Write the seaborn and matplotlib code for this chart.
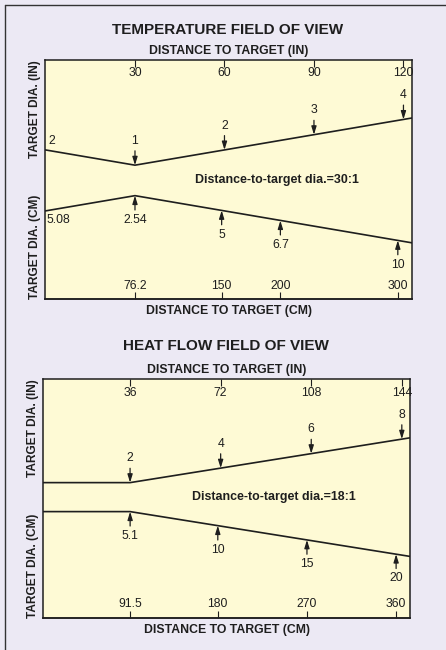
import numpy as np
import pandas as pd
import seaborn as sns
import matplotlib.pyplot as plt
from matplotlib.lines import Line2D

CM = 2.54

# temperature field of view (distances / diameters in inches)
t_dist_in = [0, 30, 123]
t_dia_in = [2, 1, 4.1]
t_in_ticks = [30, 60, 90, 120]
t_in_dia = [1, 2, 3, 4]
t_cm_ticks = [76.2, 150, 200, 300]
t_cm_dia = [2.54, 5, 6.7, 10]
t_ratio = "30:1"

# heat flow field of view
h_dist_in = [1.5, 36, 147.2]
h_dia_in = [2, 2, 8.18]
h_in_ticks = [36, 72, 108, 144]
h_in_dia = [2, 4, 6, 8]
h_cm_ticks = [91.5, 180, 270, 360]
h_cm_dia = [5.1, 10, 15, 20]
h_ratio = "18:1"

BG = "#ECE9F4"
FILL = "#FEFAD5"
INK = "#1E1E1E"
FS = 8.8

sns.set_style("white")
plt.rcParams["font.family"] = ["Liberation Sans", "DejaVu Sans"]
plt.rcParams["text.color"] = INK


def panel(ax, dist, dia, xlim, ylim, in_ticks, in_dia, cm_ticks, cm_dia, ratio):
    ax.set_facecolor(FILL)
    half = np.array(dia) / 2
    df = pd.DataFrame({"dist": dist, "upper": half, "lower": -half})
    sns.lineplot(data=df, x="dist", y="upper", color=INK, linewidth=1.2, ax=ax)
    sns.lineplot(data=df, x="dist", y="lower", color=INK, linewidth=1.2, ax=ax)
    ax.set_xlim(*xlim)
    ax.set_ylim(*ylim)
    ax.set_xlabel("")
    ax.set_ylabel("")
    ax.set_yticks([])
    for s in ax.spines.values():
        s.set_color(INK)
        s.set_linewidth(1.1)

    ax.xaxis.tick_top()
    ax.set_xticks(in_ticks, labels=[f"{v:g}" for v in in_ticks])
    ax.tick_params(axis="x", direction="in", length=5, width=0.8, pad=-14,
                   labelsize=FS, colors=INK)

    sec = ax.secondary_xaxis("bottom", functions=(lambda x: x * CM, lambda x: x / CM))
    sec.set_xticks(cm_ticks, labels=[f"{v:g}" for v in cm_ticks])
    sec.tick_params(direction="in", length=5, width=0.8, pad=-14,
                    labelsize=FS, colors=INK)
    sec.spines["bottom"].set_color(INK)
    sec.spines["bottom"].set_linewidth(1.1)

    arrow = dict(arrowstyle="-|>,head_length=0.55,head_width=0.17", color=INK,
                 lw=0.9, shrinkA=0.5, shrinkB=0)
    for x, d in zip(in_ticks, in_dia):
        ax.annotate(f"{d:g}", xy=(x, d / 2), xytext=(0, 17.5), textcoords="offset points",
                    ha="center", va="center", fontsize=FS, arrowprops=arrow)
    for c, d in zip(cm_ticks, cm_dia):
        ax.annotate(f"{d:g}", xy=(c / CM, -d / CM / 2), xytext=(0, -17.5),
                    textcoords="offset points", ha="center", va="center",
                    fontsize=FS, arrowprops=arrow)

    ax.text(0.63, 0, f"Distance-to-target dia.={ratio}", transform=ax.get_yaxis_transform(),
            ha="center", va="center", fontsize=8.9, weight="bold")
    ax.text(0.5, 1.038, "DISTANCE TO TARGET (IN)", transform=ax.transAxes,
            ha="center", va="center", fontsize=8.8, weight="bold")
    ax.text(0.5, -0.05, "DISTANCE TO TARGET (CM)", transform=ax.transAxes,
            ha="center", va="center", fontsize=8.8, weight="bold")
    ax.text(-0.029, 1, "TARGET DIA. (IN)", transform=ax.transAxes, rotation=90,
            ha="center", va="top", fontsize=8.6, weight="bold")
    ax.text(-0.029, 0, "TARGET DIA. (CM)", transform=ax.transAxes, rotation=90,
            ha="center", va="bottom", fontsize=8.6, weight="bold")


fig = plt.figure(figsize=(4.46, 6.5), dpi=100, facecolor=BG)
ax1 = fig.add_axes([0.102, 0.54, 0.822, 0.3677])
ax2 = fig.add_axes([0.097, 0.0497, 0.822, 0.367])

panel(ax1, t_dist_in, t_dia_in, (0, 122.9), (-3.89, 3.95),
      t_in_ticks, t_in_dia, t_cm_ticks, t_cm_dia, t_ratio)
panel(ax2, h_dist_in, h_dia_in, (1.5, 147.2), (-8.32, 8.14),
      h_in_ticks, h_in_dia, h_cm_ticks, h_cm_dia, h_ratio)

# values at the near end of the temperature beam
ax1.annotate(f"{t_dia_in[0]:g}", xy=(t_dist_in[0], t_dia_in[0] / 2), xytext=(2, 2),
             textcoords="offset points", ha="left", va="bottom", fontsize=FS)
ax1.annotate(f"{t_dia_in[0] * CM:g}", xy=(t_dist_in[0], -t_dia_in[0] / 2), xytext=(1, -2),
             textcoords="offset points", ha="left", va="top", fontsize=FS)

fig.text(0.51, 0.954, "TEMPERATURE FIELD OF VIEW", ha="center", va="center",
         fontsize=11, weight="bold")
fig.text(0.507, 0.468, "HEAT FLOW FIELD OF VIEW", ha="center", va="center",
         fontsize=11, weight="bold")

# frame around the figure (left and top edges visible)
fig.add_artist(Line2D([5 / 446, 5 / 446], [0, 1 - 5 / 650], transform=fig.transFigure,
                      color="#333333", lw=1))
fig.add_artist(Line2D([5 / 446, 1], [1 - 5 / 650, 1 - 5 / 650], transform=fig.transFigure,
                      color="#333333", lw=1))

fig.savefig("out.png", dpi=100, facecolor=BG)
